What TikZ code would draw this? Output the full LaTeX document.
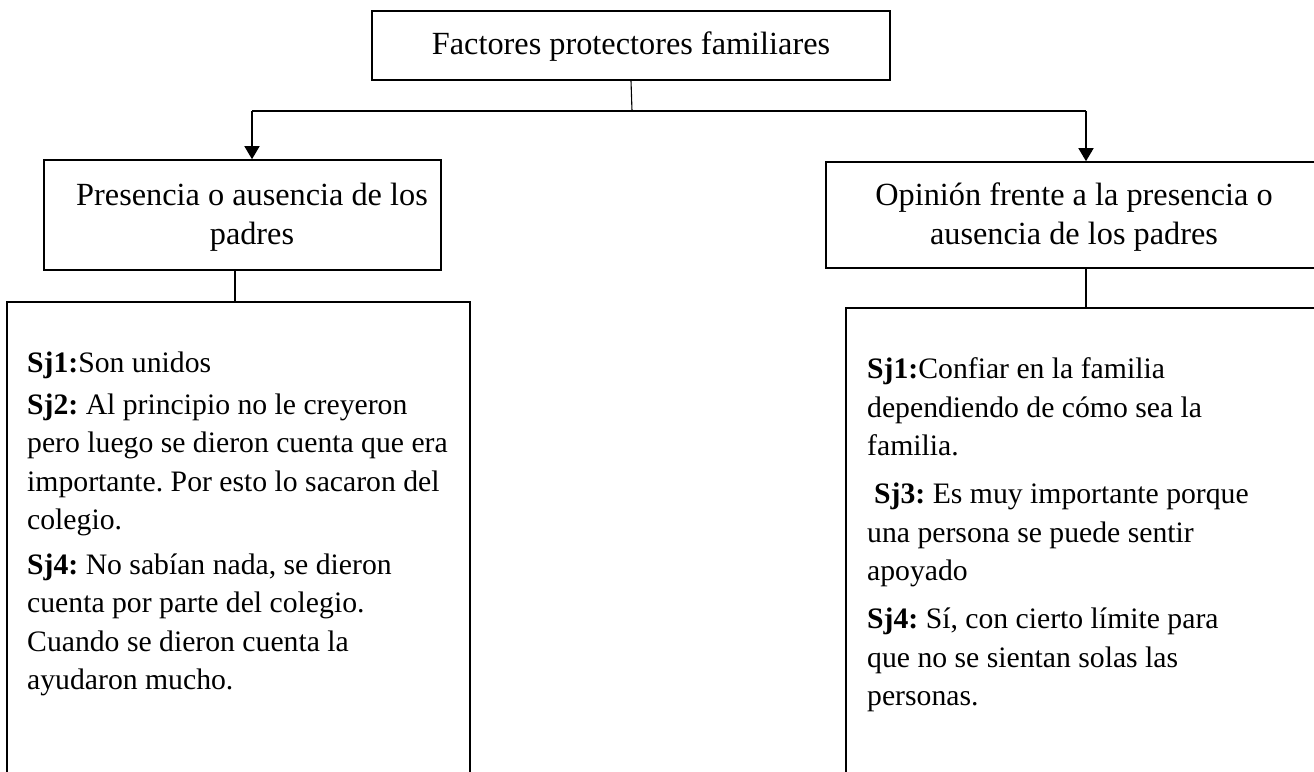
\documentclass[tikz,border=0pt]{standalone}
\usepackage{fontspec}
\setmainfont{Liberation Serif}
\usetikzlibrary{arrows.meta}
\frenchspacing
\newcommand\bodyfs{\fontsize{29.7}{38.5}\selectfont\frenchspacing}
\newcommand\hdrfs{\fontsize{32.3}{38.5}\selectfont\frenchspacing}
\tikzset{
  hdrbox/.style={draw, line width=1.6pt, inner sep=0pt},
  hdrtext/.style={align=center, font=\hdrfs, inner sep=0pt},
  bigbox/.style={draw, line width=1.6pt, inner sep=0pt},
  bodytext/.style={anchor=north west, inner sep=0pt, align=left, font=\bodyfs},
  conn/.style={line width=1.5pt},
  thin/.style={line width=1.1pt},
  arr/.style={line width=1.5pt, -{Triangle[width=15pt,length=13pt]}}
}
\begin{document}
\begin{tikzpicture}[x=1pt,y=-1pt]
\useasboundingbox (0,0) rectangle (1314,771);
\clip (0,0) rectangle (1314,771);
\fill[white] (0,0) rectangle (1314,771);

\node[hdrbox, minimum width=518pt, minimum height=69pt] (top) at (631,45.5) {};
\node[hdrtext] (toptext) at (631,47) {Factores protectores familiares};
\node[hdrbox, minimum width=397pt, minimum height=110pt] (left) at (242.5,215) {};
\node[hdrtext] (lefttext) at (252,217) {Presencia o ausencia de los\\padres};
\node[hdrbox, minimum width=494pt, minimum height=106pt] (right) at (1073,215) {};
\node[hdrtext] (righttext) at (1074,217) {Opinión frente a la presencia o\\ausencia de los padres};

\node[bigbox, minimum width=463pt, minimum height=600pt] (leftbig) at (238.5,602) {};
\node[bigbox, minimum width=554pt, minimum height=600pt] (rightbig) at (1123,608) {};

\coordinate (hm) at (632,111);
\coordinate (hl) at (252,111);
\coordinate (hr) at (1086,111);
\coordinate (ls) at (235,270);

\draw[thin] (top.south) -- (hm);
\draw[conn] (hl) -- (hr);
\draw[arr] (hl) -- (hl |- left.north);
\draw[arr] (hr) -- (hr |- right.north);
\draw[thin] (ls) -- (ls |- leftbig.north);
\draw[thin] (hr |- right.south) -- (hr |- rightbig.north);

\node[bodytext] (lt) at (27,352) {\textbf{Sj1:}Son unidos\\[3pt]
\textbf{Sj2:} Al principio no le creyeron\\
pero luego se dieron cuenta que era\\
importante. Por esto lo sacaron del\\
colegio.\\[6pt]
\textbf{Sj4:} No sabían nada, se dieron\\
cuenta por parte del colegio.\\
Cuando se dieron cuenta la\\
ayudaron mucho.};

\node[bodytext] (rt) at (867,357.5) {\textbf{Sj1:}Confiar en la familia\\
dependiendo de cómo sea la\\
familia.\\[9.5pt]
\hspace*{7pt}\textbf{Sj3:} Es muy importante porque\\
una persona se puede sentir\\
apoyado\\[9.5pt]
\textbf{Sj4:} Sí, con cierto límite para\\
que no se sientan solas las\\
personas.};
\end{tikzpicture}
\end{document}
